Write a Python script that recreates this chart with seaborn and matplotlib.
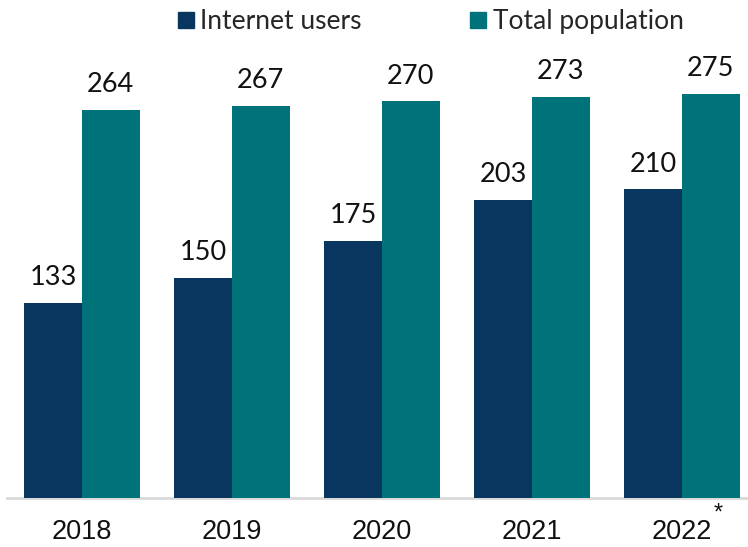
import matplotlib
matplotlib.use("Agg")
import matplotlib.pyplot as plt
import seaborn as sns
import pandas as pd
from matplotlib.lines import Line2D

years = ["2018", "2019", "2020", "2021", "2022"]
internet_users = [133, 150, 175, 203, 210]
total_population = [264, 267, 270, 273, 275]
series_names = ["Internet users", "Total population"]
colors = ["#08365f", "#00737a"]
footnote_mark = "*"

df = pd.DataFrame({
    "year": years * 2,
    "value": internet_users + total_population,
    "series": [series_names[0]] * len(years) + [series_names[1]] * len(years),
})

sns.set_theme(style="white")
plt.rcParams["font.family"] = ["Lato", "DejaVu Sans"]

fig = plt.figure(figsize=(7.48, 5.47), dpi=100)
W, H = 748, 547
# axes in pixel terms: x from 7 to 757, y from 40 (top) to 498 (bottom)
ax = fig.add_axes([7 / W, (H - 498) / H, 750 / W, 458 / H])

sns.barplot(data=df, x="year", y="value", hue="series", palette=colors,
            width=0.767, gap=0, dodge=True, saturation=1, ax=ax, legend=False,
            linewidth=0, edgecolor="none")

ax.set_xlim(-0.5, 4.5)
ax.set_ylim(0, 311.6)

for cont in ax.containers:
    ax.bar_label(cont, labels=[f"{v:.0f}" for v in cont.datavalues],
                 padding=9, fontsize=19.5, color="#111111", family="Lato")

for s in ["left", "right", "top"]:
    ax.spines[s].set_visible(False)
ax.spines["bottom"].set_color("#d9d9d9")
ax.spines["bottom"].set_linewidth(2)
ax.spines["bottom"].set_zorder(0)
ax.set_yticks([])
ax.set_xlabel("")
ax.set_ylabel("")
ax.tick_params(axis="x", length=0, pad=15)
for lab in ax.get_xticklabels():
    lab.set_fontfamily(["Liberation Sans", "DejaVu Sans"])
    lab.set_fontsize(19.5)
    lab.set_color("#111111")

# footnote marker next to the last year
ax.annotate(footnote_mark, xy=(4, 0), xycoords="data",
            xytext=(23, -3), textcoords="offset points",
            fontsize=17, family="Liberation Sans", color="#111111",
            ha="left", va="top")

handles = [Line2D([0], [0], marker="s", linestyle="", markersize=11,
                  markerfacecolor=c, markeredgecolor=c) for c in colors]
fig.legend(handles, series_names, loc="upper center", bbox_to_anchor=(0.574, 1.027),
           ncol=2, frameon=False, fontsize=19, handletextpad=0.15,
           columnspacing=4.0, handlelength=0.8)

fig.savefig("out.png", dpi=100)
